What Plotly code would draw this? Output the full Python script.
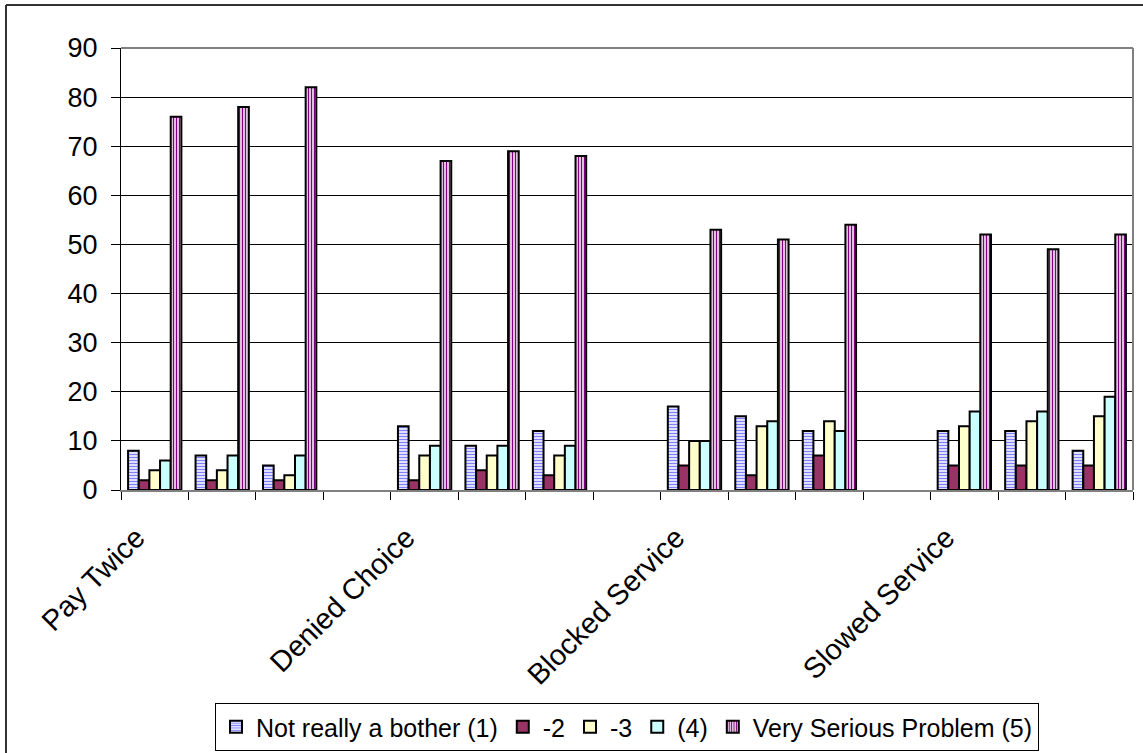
import plotly.graph_objects as go

# Slot labels along the x axis (empty slots separate the four issue groups)
slot_labels = [
    "Pay Twice", "", "", "",
    "Denied Choice", "", "", "",
    "Blocked Service", "", "", "",
    "Slowed Service", "", "",
]

series_names = [
    "Not really a bother (1)",
    "-2",
    "-3",
    "(4)",
    "Very Serious Problem (5)",
]

# Values per slot (None = empty separator slot)
not_a_bother = [8, 7, 5, None, 13, 9, 12, None, 17, 15, 12, None, 12, 12, 8]
level_2 = [2, 2, 2, None, 2, 4, 3, None, 5, 3, 7, None, 5, 5, 5]
level_3 = [4, 4, 3, None, 7, 7, 7, None, 10, 13, 14, None, 13, 14, 15]
level_4 = [6, 7, 7, None, 9, 9, 9, None, 10, 14, 12, None, 16, 16, 19]
very_serious = [76, 78, 82, None, 67, 69, 68, None, 53, 51, 54, None, 52, 49, 52]

y_ticks = [0, 10, 20, 30, 40, 50, 60, 70, 80, 90]

series_values = [not_a_bother, level_2, level_3, level_4, very_serious]

FONT = "Liberation Sans, Arial, sans-serif"

styles = [
    dict(color="#FFFFFF", pattern=dict(shape="-", fgcolor="#8080FF", bgcolor="#FFFFFF",
                                       size=3, solidity=0.5, fillmode="replace")),
    dict(color="#993366"),
    dict(color="#FFFFCC"),
    dict(color="#CCFFFF"),
    dict(color="#FFFFFF", pattern=dict(shape="|", fgcolor="#800080", bgcolor="#FFFFFF",
                                       size=3, solidity=0.5, fillmode="replace")),
]

slots = list(range(len(slot_labels)))

fig = go.Figure()
for name, vals, st in zip(series_names, series_values, styles):
    marker = dict(st)
    marker["line"] = dict(color="#000000", width=2)
    fig.add_trace(go.Bar(name=name, x=slots, y=vals, marker=marker))

W, H = 1143, 753
L, R, T, B = 121, 10, 48, 263
pw, ph = W - L - R, H - T - B


def px_x(p):
    return (p - L) / pw


def px_y(p):
    return (H - B - p) / ph


# category labels sit slightly left of the slot centre, as rotated labels do
LABEL_SHIFT = -0.27
label_pos = [i + LABEL_SHIFT for i, s in enumerate(slot_labels) if s]
label_txt = [s for s in slot_labels if s]

fig.update_layout(
    width=W,
    height=H,
    margin=dict(l=L, r=R, t=T, b=B, autoexpand=False),
    paper_bgcolor="#FFFFFF",
    plot_bgcolor="#FFFFFF",
    barmode="group",
    bargap=0.21,
    bargroupgap=0,
    font=dict(family=FONT, size=25, color="#000000"),
    showlegend=True,
    legend=dict(
        orientation="h",
        x=0.5,
        xanchor="center",
        yref="container",
        y=(H - 703) / H,
        yanchor="top",
        bordercolor="#000000",
        borderwidth=1,
        bgcolor="#FFFFFF",
        font=dict(family=FONT, size=25, color="#000000"),
        itemwidth=30,
        tracegroupgap=0,
    ),
    xaxis=dict(
        range=[-0.5, len(slot_labels) - 0.5],
        tickmode="array",
        tickvals=label_pos,
        ticktext=label_txt,
        tickangle=-45,
        ticks="",
        ticklabelstandoff=17,
        tickfont=dict(family=FONT, size=29),
        showgrid=False,
        zeroline=False,
        showline=True,
        linecolor="#808080",
        linewidth=2,
        minor=dict(tick0=-0.5, dtick=1, ticks="outside", ticklen=8,
                   tickcolor="#000000", tickwidth=1, showgrid=False),
        fixedrange=True,
    ),
    yaxis=dict(
        range=[0, 90],
        tickmode="array",
        tickvals=y_ticks,
        ticks="outside",
        ticklen=9,
        tickcolor="#000000",
        tickwidth=1,
        ticklabelstandoff=8,
        tickfont=dict(family=FONT, size=27),
        showgrid=True,
        gridcolor="#000000",
        gridwidth=1,
        zeroline=False,
        showline=True,
        linecolor="#000000",
        linewidth=1,
        fixedrange=True,
    ),
    shapes=[
        # plot area frame (top and right)
        dict(type="line", xref="paper", yref="paper", x0=0, x1=1, y0=1, y1=1,
             line=dict(color="#808080", width=2)),
        dict(type="line", xref="paper", yref="paper", x0=1, x1=1, y0=0, y1=1,
             line=dict(color="#808080", width=2)),
        # chart area frame (left and top edges)
        dict(type="line", xref="paper", yref="paper", x0=px_x(6), x1=px_x(6),
             y0=px_y(5), y1=px_y(H + 5), line=dict(color="#333333", width=2)),
        dict(type="line", xref="paper", yref="paper", x0=px_x(6), x1=px_x(W + 5),
             y0=px_y(5), y1=px_y(5), line=dict(color="#333333", width=2)),
    ],
)

fig.write_html("out.html")
